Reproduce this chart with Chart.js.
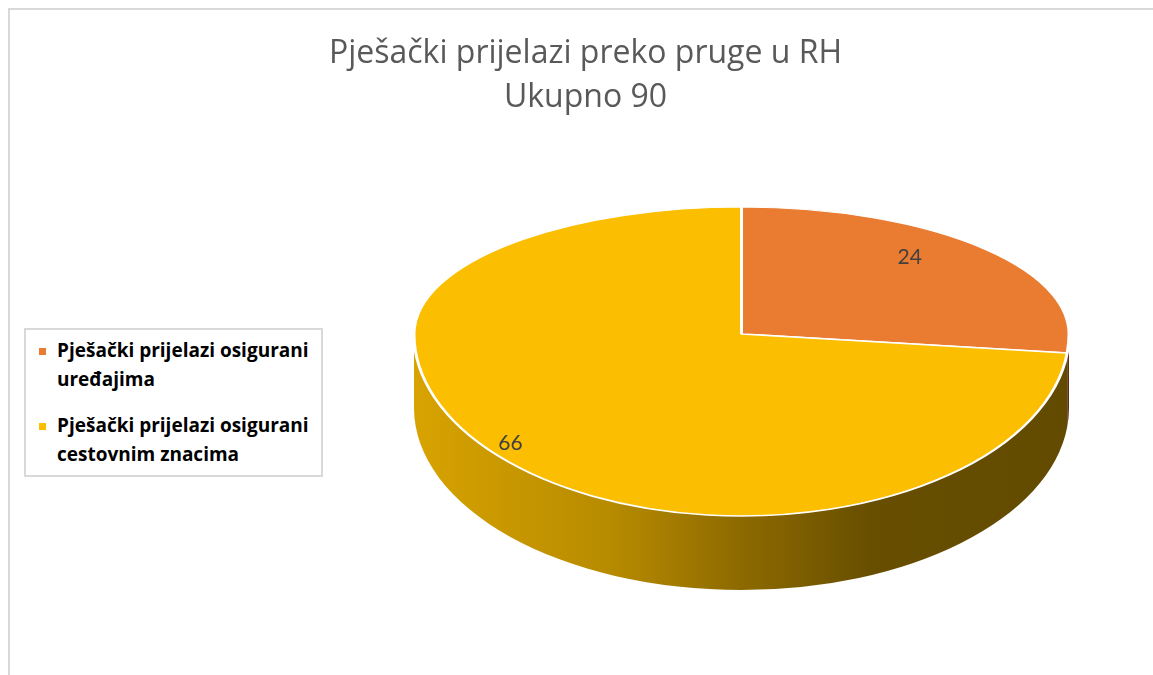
<!DOCTYPE html>
<html>
<head>
<meta charset="utf-8">
<script src="https://cdn.jsdelivr.net/npm/chart.js@4.4.0/dist/chart.umd.min.js"></script>
<style>
    html, body { margin: 0; padding: 0; background: #fff; overflow: hidden; }
    #wrap { position: relative; width: 1153px; height: 675px; overflow: hidden; }
    #frame { position: absolute; left: 8px; top: 8px; width: 1200px; height: 700px; border: 2px solid #d9d9d9; }
    #pieChart { position: absolute; left: 0; top: 0; }
    #legend {
        position: absolute; left: 24px; top: 328px; width: 295px; height: 145px;
        border: 2px solid #d9d9d9; background: #fff;
        font-family: "Open Sans", sans-serif; font-weight: bold; font-size: 19px; color: #000;
    }
    .item { position: relative; padding-left: 31px; padding-right: 2px; line-height: 29px; white-space: normal; }
    .item:first-child { margin-top: 6px; }
    .item + .item { margin-top: 17px; }
    .box { position: absolute; left: 13px; top: 12px; width: 7px; height: 7px; }
</style>
</head>
<body>
<div id="wrap">
    <div id="frame"></div>
    <canvas id="pieChart" width="1153" height="675"></canvas>
    <div id="legend"></div>
</div>
<script>
const categories = ['Pješački prijelazi osigurani uređajima', 'Pješački prijelazi osigurani cestovnim znacima'];
const counts = [24, 66];
const sliceColors = ['#EA7C32', '#FBBE00'];
const titleLines = ['Pješački prijelazi preko pruge u RH', 'Ukupno 90'];

// flat Chart.js pie gets squeezed into a tilted disc (back half flatter than front half)
const FACE_X = 741.5;
const FACE_Y = 334;
const FACE_RX = 327.5;
const FACE_RY_BACK = 127;
const FACE_RY_FRONT = 182;
const DEPTH = 74;

function shade(hex, f) {
    const n = parseInt(hex.slice(1), 16);
    const r = Math.round(((n >> 16) & 255) * f);
    const g = Math.round(((n >> 8) & 255) * f);
    const b = Math.round((n & 255) * f);
    return `rgb(${r},${g},${b})`;
}

function faceTransform(ctx, arc, ry) {
    const R = arc.outerRadius;
    ctx.translate(FACE_X, FACE_Y);
    ctx.scale(FACE_RX / R, ry / R);
    ctx.translate(-arc.x, -arc.y);
}

const tiltedPie = {
    id: 'tiltedPie',
    beforeDatasetsDraw(chart) {
        const ctx = chart.ctx;
        const arcs = chart.getDatasetMeta(0).data;

        // side wall, only the front half (canvas angles 0..PI) is visible
        arcs.forEach((arc, i) => {
            const a = Math.max(arc.startAngle, 0);
            const b = Math.min(arc.endAngle, Math.PI);
            if (b <= a) return;
            const col = sliceColors[i];
            const grad = ctx.createLinearGradient(FACE_X - FACE_RX, 0, FACE_X + FACE_RX, 0);
            grad.addColorStop(0, shade(col, 0.86));
            grad.addColorStop(0.3, shade(col, 0.73));
            grad.addColorStop(0.5, shade(col, 0.56));
            grad.addColorStop(0.7, shade(col, 0.41));
            grad.addColorStop(1, shade(col, 0.39));
            ctx.save();
            ctx.beginPath();
            ctx.ellipse(FACE_X, FACE_Y, FACE_RX, FACE_RY_FRONT, 0, a, b);
            ctx.lineTo(FACE_X + Math.cos(b) * FACE_RX, FACE_Y + DEPTH + Math.sin(b) * FACE_RY_FRONT);
            ctx.ellipse(FACE_X, FACE_Y + DEPTH, FACE_RX, FACE_RY_FRONT, 0, b, a, true);
            ctx.closePath();
            ctx.fillStyle = grad;
            ctx.fill();
            ctx.restore();
        });

        // back half of the top face: library draws it through this transform
        ctx.save();
        ctx.beginPath();
        ctx.rect(0, 0, chart.width, FACE_Y);
        ctx.clip();
        faceTransform(ctx, arcs[0], FACE_RY_BACK);
    },
    afterDatasetsDraw(chart) {
        const ctx = chart.ctx;
        const arcs = chart.getDatasetMeta(0).data;
        ctx.restore();

        // front half of the top face
        ctx.save();
        ctx.beginPath();
        ctx.rect(0, FACE_Y, chart.width, chart.height - FACE_Y);
        ctx.clip();
        faceTransform(ctx, arcs[0], FACE_RY_FRONT);
        arcs.forEach(arc => arc.draw(ctx));
        ctx.restore();

        // value labels, pulled in a bit at the back for the perspective look
        ctx.save();
        ctx.font = '21px Lato';
        ctx.fillStyle = '#404040';
        ctx.textAlign = 'center';
        ctx.textBaseline = 'middle';
        arcs.forEach((arc, i) => {
            const mid = (arc.startAngle + arc.endAngle) / 2;
            const ry = Math.sin(mid) < 0 ? FACE_RY_BACK : FACE_RY_FRONT;
            const x = FACE_X + Math.cos(mid) * 0.82 * FACE_RX * (1 + 0.235 * Math.sin(mid));
            const y = FACE_Y + Math.sin(mid) * 0.9 * ry;
            ctx.fillText(String(counts[i]), x, y);
        });
        ctx.restore();
    }
};

const chart = new Chart(document.getElementById('pieChart'), {
    type: 'pie',
    data: {
        labels: categories,
        datasets: [{
            data: counts,
            backgroundColor: sliceColors,
            borderColor: '#ffffff',
            borderWidth: 2.5,
            clip: false
        }]
    },
    options: {
        responsive: false,
        animation: false,
        events: [],
        layout: {
            padding: { left: 18 }
        },
        plugins: {
            legend: { display: false },
            tooltip: { enabled: false },
            title: {
                display: true,
                text: titleLines,
                color: '#595959',
                font: { family: 'Open Sans', size: 32, weight: 'normal', lineHeight: 1.4 },
                padding: { top: 31, bottom: 10 }
            }
        }
    },
    plugins: [tiltedPie]
});

// html legend so the long labels can wrap like the original
const legendEl = document.getElementById('legend');
categories.forEach((name, i) => {
    const item = document.createElement('div');
    item.className = 'item';
    const box = document.createElement('span');
    box.className = 'box';
    box.style.background = sliceColors[i];
    item.appendChild(box);
    item.appendChild(document.createTextNode(name));
    legendEl.appendChild(item);
});
</script>
</body>
</html>
